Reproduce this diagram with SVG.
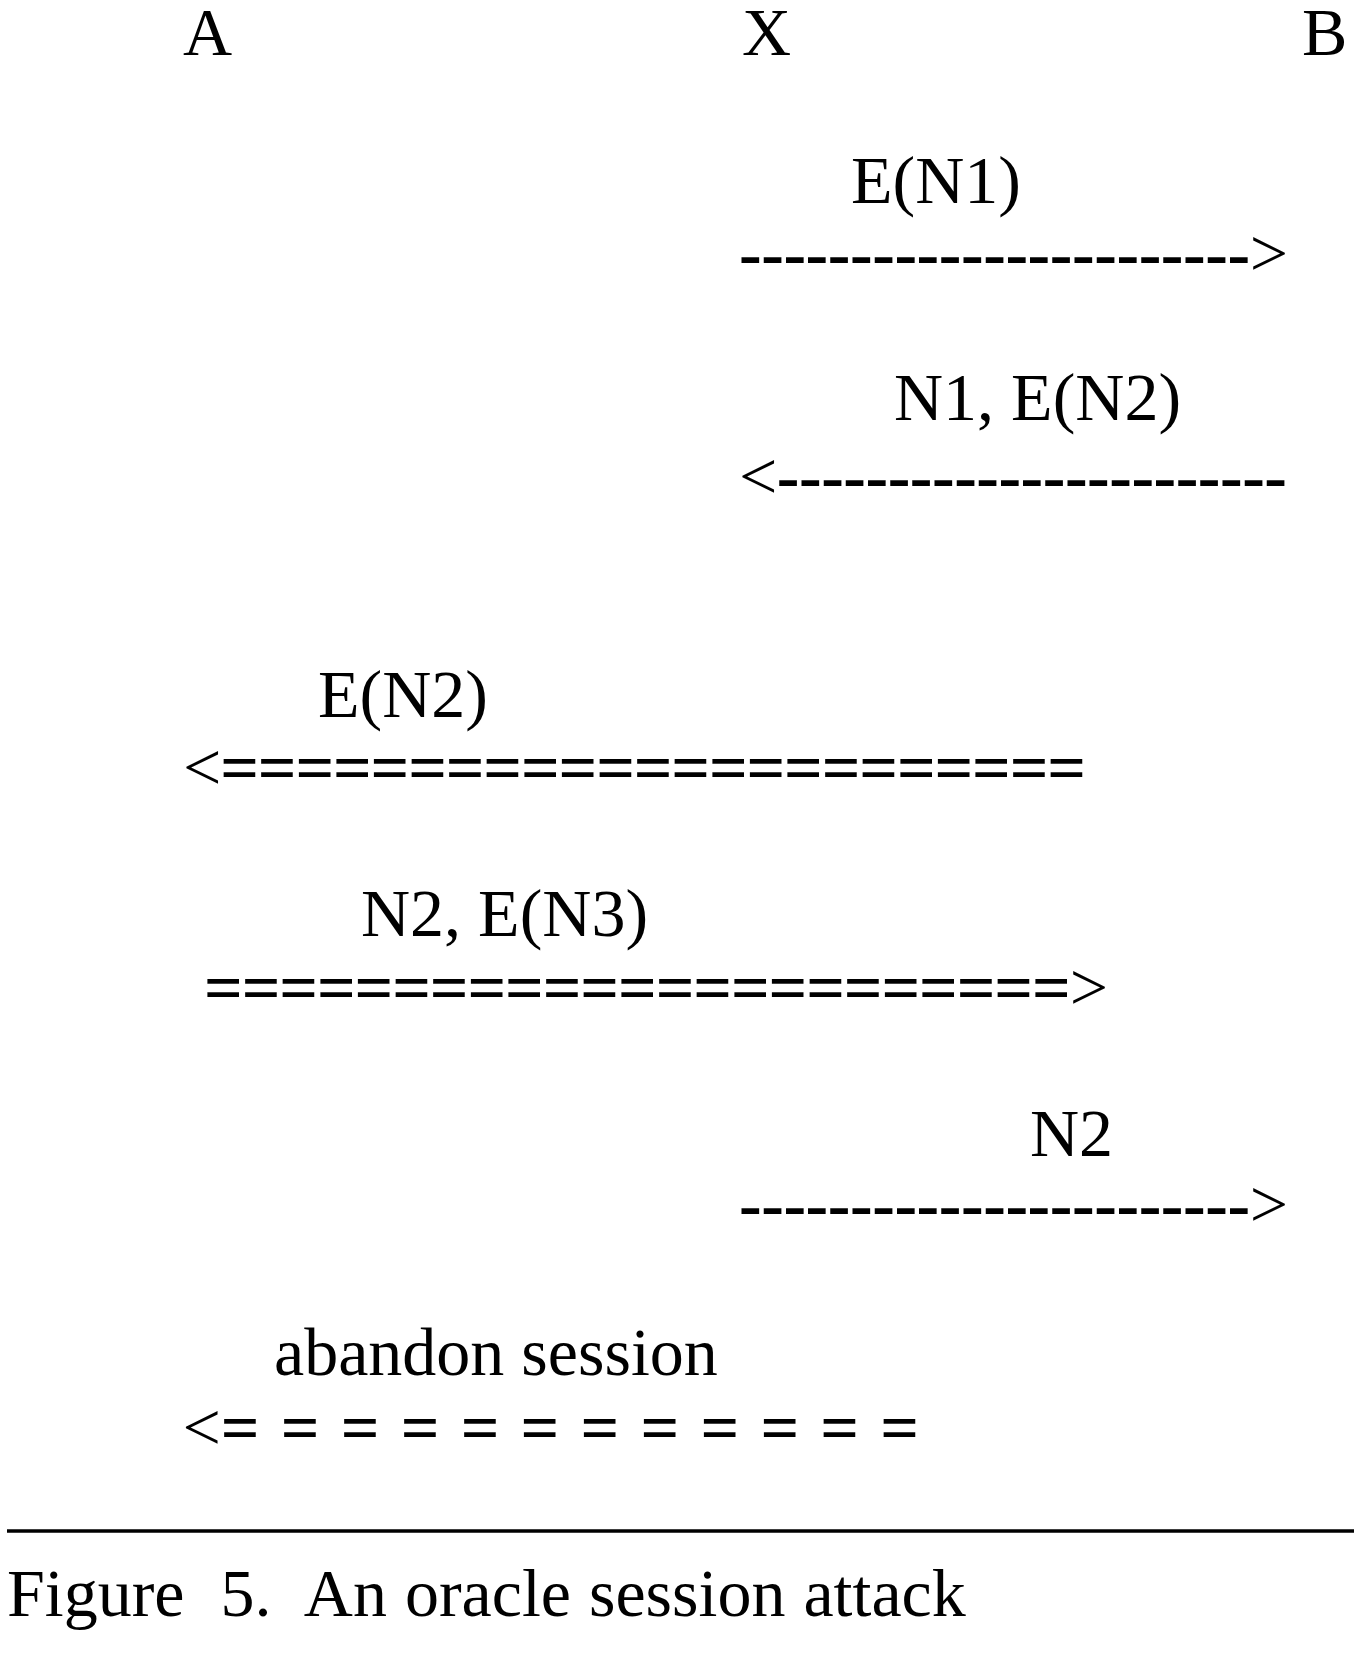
<svg xmlns="http://www.w3.org/2000/svg" width="1354" height="1656" viewBox="0 0 1354 1656">
<style>
.t { font-family: "Liberation Serif", "Times New Roman", serif; font-size: 68px; fill: #000; }
.b { font-weight: bold; }
.rule { stroke: #000; stroke-width: 3.5; }
</style>
<rect width="1354" height="1656" fill="#fff"/>
<g id="party-A"><text class="t" x="183" y="55">A</text></g>
<g id="party-X"><text class="t" x="742" y="55">X</text></g>
<g id="party-B"><text class="t" x="1302" y="55">B</text></g>

<g id="label-1"><text class="t" x="851" y="203">E(N1)</text></g>
<g id="label-2"><text class="t" x="894" y="420">N1, E(N2)</text></g>
<g id="label-3"><text class="t" x="318" y="717">E(N2)</text></g>
<g id="label-4"><text class="t" x="361" y="936">N2, E(N3)</text></g>
<g id="label-5"><text class="t" x="1030" y="1156">N2</text></g>
<g id="label-6"><text class="t" x="274" y="1375">abandon session</text></g>

<g id="connectors">
<text class="t" x="739" y="276" textLength="549" lengthAdjust="spacing"><tspan class="b">-----------------------</tspan>&gt;</text>
<text class="t" x="739" y="499" textLength="548" lengthAdjust="spacing">&lt;<tspan class="b">-----------------------</tspan></text>
<text class="t" x="183" y="790" textLength="903" lengthAdjust="spacing">&lt;<tspan class="b">=======================</tspan></text>
<text class="t" x="204" y="1010" textLength="904" lengthAdjust="spacing"><tspan class="b">=======================</tspan>&gt;</text>
<text class="t" x="739" y="1227" textLength="549" lengthAdjust="spacing"><tspan class="b">-----------------------</tspan>&gt;</text>
<text class="t" x="182.5" y="1450" word-spacing="4.2">&lt;<tspan class="b">= = = = = = = = = = = =</tspan></text>
</g>

<g id="caption">
<line class="rule" x1="7" y1="1531" x2="1354" y2="1531"/>
<text class="t" x="7" y="1616" style="white-space:pre" word-spacing="1">Figure  5.  An oracle session attack</text>
</g>
</svg>
